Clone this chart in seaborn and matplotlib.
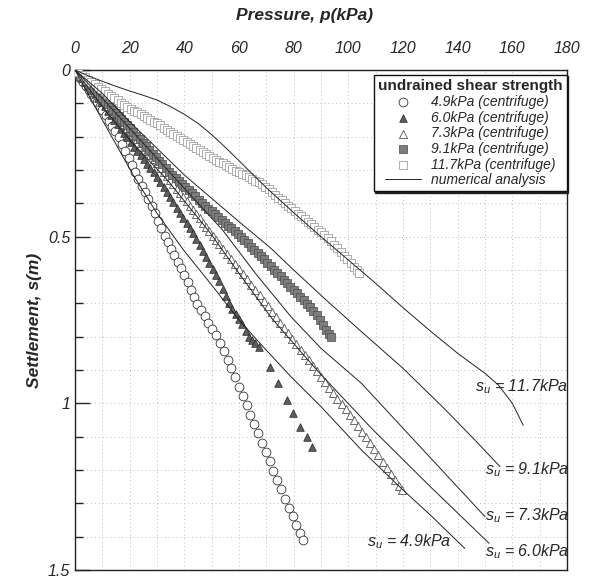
import matplotlib
matplotlib.use("Agg")
import matplotlib.pyplot as plt
import seaborn as sns

# --- centrifuge test data: pressure p (kPa) vs settlement s (m) ---
p_49 = [0, 1, 2, 3, 4, 5, 6, 7, 8, 9, 10, 11.2, 12.4, 13.6, 14.8, 16, 17.2, 18.4, 19.6, 20.8,
        22, 23.2, 24.4, 25.6, 26.8, 28, 29.2, 30.4, 31.6, 32.8, 34, 35.2, 36.4, 37.6, 38.8, 40,
        41.2, 42.4, 43.6, 44.8, 46, 47.4, 48.8, 50.2, 51.6, 53, 54.4, 55.8, 57.2, 58.6, 60,
        61.4, 62.8, 64.2, 65.6, 67, 68.4, 69.8, 71.2, 72.6, 74, 75.4, 76.8, 78.2, 79.6, 81,
        82.3, 83.5]
s_49 = [0, 0.012, 0.024, 0.036, 0.048, 0.06, 0.072, 0.084, 0.096, 0.108, 0.12, 0.136, 0.152,
        0.168, 0.184, 0.2, 0.222, 0.243, 0.265, 0.286, 0.307, 0.327, 0.347, 0.367, 0.387, 0.408,
        0.43, 0.453, 0.475, 0.497, 0.516, 0.536, 0.556, 0.576, 0.595, 0.615, 0.637, 0.659,
        0.681, 0.703, 0.72, 0.739, 0.758, 0.776, 0.794, 0.818, 0.844, 0.869, 0.895, 0.922,
        0.95, 0.978, 1.006, 1.034, 1.062, 1.09, 1.118, 1.146, 1.174, 1.202, 1.23, 1.258,
        1.286, 1.314, 1.339, 1.365, 1.389, 1.41]

p_60 = [0, 1.2, 2.4, 3.6, 4.8, 6, 7.2, 8.4, 9.6, 10.8, 12, 13.2, 14.4, 15.6, 16.8, 18, 19.2,
        20.4, 21.6, 22.8, 24, 25.2, 26.4, 27.6, 28.8, 30, 31.2, 32.4, 33.6, 34.8, 36, 37.2,
        38.4, 39.6, 40.8, 42, 43.2, 44.4, 45.6, 46.8, 48, 49.2, 50.4, 51.6, 52.8, 54, 55.2,
        56.4, 57.6, 58.8, 60, 61.2, 62.4, 63.6, 64.8, 66, 67.2, 71.3, 74.3, 77.5, 79.9, 82.3,
        84.8, 86.7]
s_60 = [0, 0.012, 0.024, 0.036, 0.048, 0.06, 0.072, 0.084, 0.096, 0.109, 0.122, 0.136, 0.149,
        0.162, 0.175, 0.189, 0.202, 0.217, 0.23, 0.243, 0.255, 0.268, 0.281, 0.294, 0.307,
        0.32, 0.335, 0.351, 0.366, 0.382, 0.397, 0.413, 0.428, 0.443, 0.459, 0.474, 0.49,
        0.506, 0.524, 0.542, 0.56, 0.578, 0.596, 0.614, 0.634, 0.656, 0.678, 0.7, 0.718,
        0.733, 0.748, 0.763, 0.783, 0.8, 0.81, 0.82, 0.83, 0.89, 0.94, 0.99, 1.03, 1.07,
        1.10, 1.13]

p_73 = [0, 1.2, 2.4, 3.6, 4.8, 6, 7.2, 8.4, 9.6, 10.8, 12, 13.2, 14.4, 15.6, 16.8, 18, 19.2,
        20.4, 21.6, 22.8, 24, 25.2, 26.4, 27.6, 28.8, 30, 31.2, 32.4, 33.6, 34.8, 36, 37.2,
        38.4, 39.6, 40.8, 42, 43.2, 44.4, 45.6, 46.8, 48, 49.2, 50.4, 51.6, 52.8, 54, 55.5,
        57, 58.5, 60, 61.5, 63, 64.5, 66, 67.5, 69, 70.5, 72, 73.5, 75, 76.5, 78, 79.5, 81,
        82.5, 84, 85.5, 87, 88.5, 90, 91.5, 93, 94.5, 96, 97.5, 99, 100.5, 102, 103.5, 105,
        106.5, 108, 109.5, 111, 112.5, 114, 115.5, 117, 118.5, 119.5]
s_73 = [0, 0.011, 0.022, 0.032, 0.043, 0.054, 0.065, 0.076, 0.086, 0.097, 0.108, 0.119, 0.13,
        0.14, 0.151, 0.162, 0.173, 0.184, 0.196, 0.208, 0.22, 0.232, 0.244, 0.256, 0.268,
        0.28, 0.293, 0.305, 0.318, 0.33, 0.343, 0.356, 0.368, 0.381, 0.394, 0.407, 0.42,
        0.432, 0.445, 0.458, 0.471, 0.484, 0.497, 0.51, 0.523, 0.536, 0.551, 0.567, 0.582,
        0.598, 0.613, 0.628, 0.644, 0.66, 0.676, 0.693, 0.709, 0.725, 0.741, 0.758, 0.774,
        0.79, 0.806, 0.823, 0.839, 0.855, 0.871, 0.888, 0.904, 0.92, 0.936, 0.953, 0.969,
        0.986, 1.002, 1.018, 1.035, 1.051, 1.068, 1.085, 1.102, 1.12, 1.137, 1.155, 1.176,
        1.194, 1.212, 1.23, 1.248, 1.26]

p_91 = [0, 1, 2, 3, 4, 5, 6, 7, 8, 9, 10, 11, 12, 13, 14, 15, 16, 17, 18, 19, 20, 21.2, 22.4,
        23.6, 24.8, 26, 27.2, 28.4, 29.6, 30.8, 32, 33.2, 34.4, 35.6, 36.8, 38, 39.2, 40.4,
        41.6, 42.8, 44, 45.2, 46.4, 47.6, 48.8, 50, 51.2, 52.4, 53.6, 54.8, 56, 57.2, 58.4,
        59.6, 60.8, 62, 63.2, 64.4, 65.6, 66.8, 68, 69.2, 70.4, 71.6, 72.8, 74, 75.2, 76.4,
        77.6, 78.8, 80, 81.2, 82.4, 83.6, 84.8, 86, 87.2, 88.4, 89.6, 90.8, 92, 93, 93.75]
s_91 = [0, 0.008, 0.017, 0.025, 0.034, 0.042, 0.051, 0.059, 0.068, 0.076, 0.085, 0.094, 0.103,
        0.112, 0.121, 0.13, 0.139, 0.148, 0.157, 0.166, 0.175, 0.186, 0.197, 0.207, 0.218,
        0.229, 0.24, 0.251, 0.261, 0.272, 0.283, 0.294, 0.305, 0.315, 0.324, 0.333, 0.342,
        0.352, 0.361, 0.37, 0.379, 0.389, 0.398, 0.407, 0.416, 0.424, 0.433, 0.441, 0.45,
        0.458, 0.467, 0.475, 0.484, 0.492, 0.501, 0.51, 0.52, 0.53, 0.539, 0.549, 0.559,
        0.568, 0.578, 0.589, 0.599, 0.609, 0.619, 0.629, 0.64, 0.65, 0.66, 0.67, 0.681,
        0.691, 0.701, 0.711, 0.722, 0.736, 0.751, 0.766, 0.78, 0.791, 0.8]

p_117 = [0, 1.2, 2.4, 3.6, 4.8, 6, 7.2, 8.4, 9.6, 10.8, 12, 13.2, 14.4, 15.6, 16.8, 18, 19.2,
         20.4, 21.6, 22.8, 24, 25.2, 26.4, 27.6, 28.8, 30, 31.2, 32.4, 33.6, 34.8, 36, 37.2,
         38.4, 39.6, 40.8, 42, 43.2, 44.4, 45.6, 46.8, 48, 49.2, 50.4, 51.6, 52.8, 54, 55.2,
         56.4, 57.6, 58.8, 60, 61.2, 62.4, 63.6, 64.8, 66, 67.2, 68.4, 69.6, 70.8, 72, 73.2,
         74.4, 75.6, 76.8, 78, 79.2, 80.4, 81.6, 82.8, 84, 85.2, 86.4, 87.6, 88.8, 90, 91.2,
         92.4, 93.6, 94.8, 96, 97.2, 98.4, 99.6, 100.8, 102, 103, 104]
s_117 = [0, 0.007, 0.014, 0.022, 0.029, 0.036, 0.043, 0.05, 0.058, 0.064, 0.071, 0.077, 0.084,
         0.091, 0.098, 0.104, 0.111, 0.117, 0.122, 0.127, 0.133, 0.138, 0.144, 0.149, 0.155,
         0.16, 0.166, 0.173, 0.179, 0.185, 0.191, 0.198, 0.204, 0.21, 0.216, 0.223, 0.229,
         0.235, 0.24, 0.246, 0.252, 0.257, 0.263, 0.269, 0.275, 0.28, 0.286, 0.292, 0.297,
         0.302, 0.306, 0.311, 0.316, 0.321, 0.327, 0.332, 0.337, 0.342, 0.35, 0.358, 0.367,
         0.375, 0.383, 0.39, 0.399, 0.407, 0.415, 0.423, 0.431, 0.439, 0.447, 0.455, 0.463,
         0.471, 0.479, 0.487, 0.496, 0.504, 0.513, 0.524, 0.535, 0.546, 0.557, 0.568, 0.579,
         0.59, 0.6, 0.61]

# --- numerical analysis curves ---
num_p_49 = [0, 10, 21.3, 30, 39.7, 50, 60, 68.8, 79, 90, 104.8, 120, 130, 142.6]
num_s_49 = [0, 0.15, 0.315, 0.43, 0.54, 0.645, 0.75, 0.83, 0.92, 1.01, 1.14, 1.26, 1.335, 1.435]

num_p_60 = [0, 10, 20, 33.8, 49.6, 60, 72, 89, 108.5, 130, 151.5]
num_s_60 = [0, 0.11, 0.21, 0.33, 0.49, 0.61, 0.745, 0.905, 1.075, 1.25, 1.42]

num_p_73 = [0, 10, 20, 30, 40, 54, 66, 79, 90, 104.8, 124, 137, 150]
num_s_73 = [0, 0.085, 0.175, 0.265, 0.355, 0.48, 0.61, 0.74, 0.835, 0.94, 1.11, 1.225, 1.34]

num_p_91 = [0, 10, 20, 31.25, 40, 50.7, 60, 71.7, 80, 91.2, 104.8, 120, 135, 146.3, 155.5]
num_s_91 = [0, 0.07, 0.155, 0.245, 0.315, 0.39, 0.455, 0.535, 0.6, 0.685, 0.785, 0.895,
            1.015, 1.11, 1.19]

num_p_117 = [0, 5, 10, 15, 20, 25, 30, 35, 40, 45, 50, 55, 60, 65, 70, 80, 90, 100, 110, 120,
             130, 140, 145, 150, 155, 160, 164]
num_s_117 = [0, 0.018, 0.034, 0.049, 0.063, 0.076, 0.09, 0.11, 0.133, 0.16, 0.194, 0.232,
             0.272, 0.313, 0.353, 0.428, 0.5, 0.57, 0.64, 0.713, 0.783, 0.85, 0.88, 0.91,
             0.946, 1.0, 1.066]

# label text and anchor (p, s) for each numerical curve
su_names = ["11.7", "9.1", "7.3", "6.0", "4.9"]
su_label_p = [146.4, 150.0, 150.0, 150.0, 106.8]
su_label_s = [0.949, 1.198, 1.338, 1.446, 1.416]

sns.set_style("ticks")
plt.rcParams["font.family"] = ["Liberation Sans", "DejaVu Sans"]
plt.rcParams["mathtext.fontset"] = "custom"
plt.rcParams["mathtext.it"] = "Liberation Sans:italic"
plt.rcParams["mathtext.rm"] = "Liberation Sans:italic"

fig = plt.figure(figsize=(5.9, 5.82), dpi=100)
ax = fig.add_axes([75 / 590, 1 - 570 / 582, (567 - 75) / 590, 500 / 582])

# experimental points
sns.scatterplot(x=p_49, y=s_49, ax=ax, marker="o", s=40, facecolor="white",
                edgecolor="#333333", linewidth=0.6, label="4.9kPa (centrifuge)", zorder=3)
sns.scatterplot(x=p_60, y=s_60, ax=ax, marker="^", s=30, color="#5e5e5e",
                edgecolor="#222222", linewidth=0.5, label="6.0kPa (centrifuge)", zorder=3)
sns.scatterplot(x=p_73, y=s_73, ax=ax, marker="^", s=34, facecolor="white",
                edgecolor="#555555", linewidth=0.6, label="7.3kPa (centrifuge)", zorder=3)
sns.scatterplot(x=p_91, y=s_91, ax=ax, marker="s", s=34, color="#7d7d7d",
                edgecolor="#4a4a4a", linewidth=0.5, label="9.1kPa (centrifuge)", zorder=3)
sns.scatterplot(x=p_117, y=s_117, ax=ax, marker="s", s=34, facecolor="white",
                edgecolor="#a0a0a0", linewidth=0.6, label="11.7kPa (centrifuge)", zorder=3)

# numerical curves
num_sets = [(num_p_49, num_s_49), (num_p_60, num_s_60), (num_p_73, num_s_73),
            (num_p_91, num_s_91), (num_p_117, num_s_117)]
for i, (px, sy) in enumerate(num_sets):
    sns.lineplot(x=px, y=sy, ax=ax, sort=False, estimator=None, color="#222222",
                 linewidth=0.7, label="numerical analysis" if i == 0 else None, zorder=4)

for name, x, y in zip(su_names, su_label_p, su_label_s):
    ax.text(x, y, r"$s_u$ = " + name + "kPa", fontsize=11.5, style="italic",
            va="center", ha="left", zorder=5)

ax.set_xlim(0, 180)
ax.set_ylim(1.5, 0)
ax.xaxis.tick_top()
ax.xaxis.set_label_position("top")
ax.set_xticks(range(0, 181, 20))
ax.set_xticks(range(0, 181, 10), minor=True)
ax.set_yticks([0, 0.5, 1, 1.5])
ax.set_yticklabels(["0", "0.5", "1", "1.5"])
ax.set_yticks([i / 10 for i in range(16)], minor=True)
ax.tick_params(axis="x", which="both", length=0, labelsize=11.5, pad=10)
ax.tick_params(axis="y", which="major", direction="in", length=11, width=1, labelsize=11.5)
ax.tick_params(axis="y", which="minor", direction="in", length=6, width=1)
for lab in ax.get_xticklabels() + ax.get_yticklabels():
    lab.set_style("italic")

ax.grid(True, which="both", linestyle=(0, (1, 3)), color="#bdbdbd", linewidth=0.7)
for sp in ax.spines.values():
    sp.set_color("#222222")
    sp.set_linewidth(1.0)

ax.set_xlabel("Pressure, p(kPa)", fontsize=12.5, fontweight="bold", style="italic")
ax.set_ylabel("Settlement, s(m)", fontsize=12.5, fontweight="bold", style="italic", labelpad=4)
ax.xaxis.set_label_coords((305 - 75) / 492, 1.1)

leg = ax.legend(loc="upper right", bbox_to_anchor=(1.0, 0.99), borderaxespad=0,
                title="undrained shear strength", fontsize=10, frameon=True,
                fancybox=False, edgecolor="#111111", handlelength=2.6,
                handletextpad=0.7, labelspacing=0.12, borderpad=0.3,
                shadow={"ox": 1, "oy": -1, "color": "#222222", "alpha": 1},
                title_fontproperties={"weight": "bold", "size": 11})
leg.get_frame().set_linewidth(1.0)
for t in leg.get_texts():
    t.set_style("italic")
leg.set_zorder(6)

fig.savefig("out.png", dpi=100)
